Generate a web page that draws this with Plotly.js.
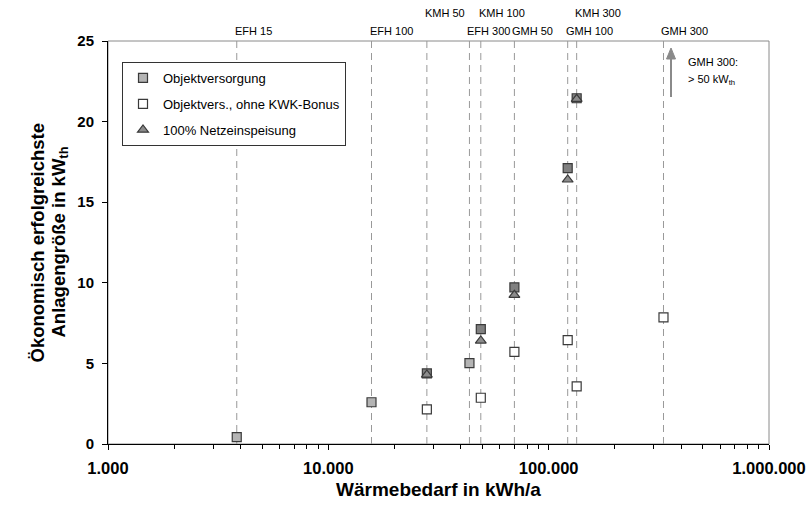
<!DOCTYPE html>
<html><head><meta charset="utf-8">
<script src="https://cdn.plot.ly/plotly-3.0.1.min.js"></script>
<style>html,body{margin:0;padding:0;background:#fff}#chart{width:806px;height:508px}</style>
</head><body><div id="chart"></div>
<script>
// ---- data ----
const buildings = ["EFH 15","EFH 100","KMH 50","EFH 300","KMH 100","GMH 50","GMH 100","KMH 300","GMH 300"];
const heatDemand = [3840, 15700, 28000, 43700, 49200, 69900, 122000, 134000, 332000];
const objektversorgung = [0.43, 2.59, 4.38, 5.02, 7.13, 9.72, 17.12, 21.45, null];
const ohneKwkBonus = [null, null, 2.15, null, 2.87, 5.71, 6.45, 3.58, 7.86];
const netzeinspeisung = [null, null, 4.30, null, 6.41, 9.24, 16.40, 21.40, null];
const seriesNames = ["Objektversorgung", "Objektvers., ohne KWK-Bonus", "100% Netzeinspeisung"];
const xTickVals = [1000, 10000, 100000, 1000000];
const xTickText = ["1.000", "10.000", "100.000", "1.000.000"];
const yTickVals = [0, 5, 10, 15, 20, 25];
const noteLines = ["GMH 300:", "&gt; 50 kW<sub>th</sub>"];
const xTitle = "Wärmebedarf in kWh/a";
const yTitleLines = ["Ökonomisch erfolgreichste", "Anlagengröße in kW<sub>th</sub>"];

// ---- build ----
const FONT = "Liberation Sans, Arial, Helvetica, sans-serif";
const LIGHT = "#b4b4b4", DARK = "#808080", EDGE = "#3a3a3a";
const M = {l: 108, r: 37, t: 41, b: 64}, W = 806, H = 508;
const PW = W - M.l - M.r, PH = H - M.t - M.b;
const px2x = p => (p - M.l) / PW;          // page px -> paper x
const px2y = p => (H - M.b - p) / PH;      // page px -> paper y

const objColors = buildings.map(b => b.startsWith("EFH") ? LIGHT : DARK);

const traces = [
  {type: "scatter", mode: "markers", x: heatDemand, y: ohneKwkBonus, name: seriesNames[1],
   legendgroup: "b", legendrank: 2,
   marker: {symbol: "square", size: 9, color: "#ffffff", line: {color: EDGE, width: 1.2}}},
  {type: "scatter", mode: "markers", x: heatDemand, y: objektversorgung, name: seriesNames[0],
   legendgroup: "a", legendrank: 1,
   marker: {symbol: "square", size: 9, color: objColors, line: {color: EDGE, width: 1.2}}},
  {type: "scatter", mode: "markers", x: heatDemand, y: netzeinspeisung, name: seriesNames[2],
   legendgroup: "c", legendrank: 3,
   marker: {symbol: "triangle-up", size: 9.5, color: "#8c8c8c", line: {color: EDGE, width: 1.2}}}
];

// minor log ticks
const minorVals = [];
for (let d = 1000; d < 1000000; d *= 10) for (let k = 2; k <= 9; k++) minorVals.push(d * k);

const shapes = [
  {type: "rect", xref: "paper", yref: "paper", x0: 0, x1: 1, y0: 0, y1: 1,
   line: {color: "#8a8a8a", width: 1}, layer: "below"}
];
heatDemand.forEach(v => shapes.push({
  type: "line", xref: "x", yref: "paper", x0: v, x1: v, y0: 0, y1: 1,
  line: {color: "#999999", width: 1, dash: "7px,5px"}, layer: "below"
}));
// arrow next to GMH 300 (shaft + head)
const ax = 671;
shapes.push(
  {type: "line", xref: "paper", yref: "paper", x0: px2x(ax), x1: px2x(ax), y0: px2y(97), y1: px2y(58),
   line: {color: "#8a8a8a", width: 2}},
  {type: "path", xref: "paper", yref: "paper",
   path: `M ${px2x(ax - 4.5)} ${px2y(59)} L ${px2x(ax)} ${px2y(48)} L ${px2x(ax + 4.5)} ${px2y(59)} Z`,
   fillcolor: "#8a8a8a", line: {color: "#8a8a8a", width: 1}}
);

const annotations = buildings.map((b, i) => ({
  xref: "x", yref: "paper", x: Math.log10(heatDemand[i]),
  y: b.startsWith("KMH") ? px2y(13) : px2y(31),
  xanchor: "left", yanchor: "middle", xshift: -4, showarrow: false,
  text: b, font: {family: FONT, size: 11, color: "#000"}
}));
annotations.push(
  {xref: "paper", yref: "paper", x: px2x(686), y: px2y(62), xanchor: "left", yanchor: "middle",
   showarrow: false, text: noteLines[0], font: {family: FONT, size: 11, color: "#000"}},
  {xref: "paper", yref: "paper", x: px2x(686), y: px2y(80), xanchor: "left", yanchor: "middle",
   showarrow: false, text: noteLines[1], font: {family: FONT, size: 11, color: "#000"}},
  {xref: "paper", yref: "paper", x: px2x(37), y: 0.5, xanchor: "center", yanchor: "middle",
   textangle: -90, showarrow: false, text: yTitleLines[0],
   font: {family: FONT, size: 18.5, color: "#000", weight: 700}},
  {xref: "paper", yref: "paper", x: px2x(59), y: 0.5, xanchor: "center", yanchor: "middle",
   textangle: -90, showarrow: false, text: yTitleLines[1],
   font: {family: FONT, size: 18.5, color: "#000", weight: 700}}
);

const layout = {
  width: W, height: H,
  margin: M,
  paper_bgcolor: "#fff", plot_bgcolor: "#fff",
  font: {family: FONT, color: "#000"},
  showlegend: true,
  legend: {x: px2x(122), y: px2y(62), xanchor: "left", yanchor: "top",
           bgcolor: "#fff", bordercolor: "#333", borderwidth: 1,
           traceorder: "grouped", tracegroupgap: 6,
           font: {family: FONT, size: 13, color: "#000"}},
  xaxis: {type: "log", range: [3, 6], tickmode: "array", tickvals: xTickVals, ticktext: xTickText,
          ticks: "outside", ticklen: 5, tickcolor: "#000", showgrid: false, zeroline: false,
          showline: true, linecolor: "#000", linewidth: 1, ticklabelstandoff: 4,
          tickfont: {family: FONT, size: 16.5, color: "#000", weight: 700},
          minor: {tickmode: "array", tickvals: minorVals, ticks: "outside", ticklen: 4, tickcolor: "#000", showgrid: false},
          title: {text: xTitle, standoff: 6, font: {family: FONT, size: 19, color: "#000", weight: 700}}},
  yaxis: {range: [0, 25], tickmode: "array", tickvals: yTickVals,
          ticks: "outside", ticklen: 5, tickcolor: "#000", showgrid: false, zeroline: false,
          showline: true, linecolor: "#000", linewidth: 1, ticklabelstandoff: 5,
          tickfont: {family: FONT, size: 15, color: "#000", weight: 700}},
  shapes: shapes,
  annotations: annotations,
  hovermode: false
};

Plotly.newPlot("chart", traces, layout, {staticPlot: true, displayModeBar: false});
</script>
</body></html>
